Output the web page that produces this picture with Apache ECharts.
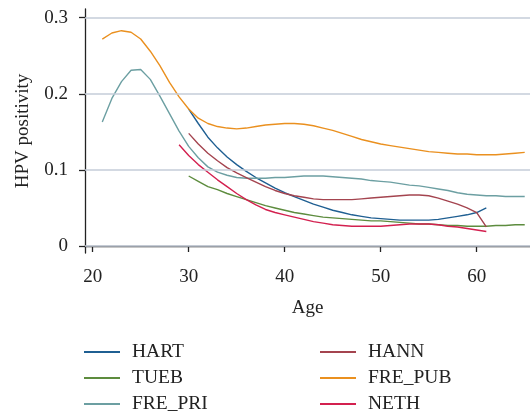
<!DOCTYPE html>
<html>
<head>
<meta charset="utf-8">
<script src="https://cdn.jsdelivr.net/npm/echarts@6/dist/echarts.min.js"></script>
<style>
html,body{margin:0;padding:0;background:#fff;}
#c{width:530px;height:415px;}
</style>
</head>
<body>
<div id="c"></div>
<script>
const ageStart21 = 21;
const ageStart30 = 30;
const ageStart29 = 29;

const FRE_PUB = [0.272,0.280,0.283,0.281,0.272,0.256,0.237,0.215,0.196,0.180,
  0.168,0.161,0.157,0.155,0.154,0.155,0.157,0.159,0.160,0.161,
  0.161,0.160,0.158,0.155,0.152,0.148,0.144,0.140,0.137,0.134,
  0.132,0.130,0.128,0.126,0.124,0.123,0.122,0.121,0.121,0.120,
  0.120,0.120,0.121,0.122,0.123]; // ages 21..65

const FRE_PRI = [0.163,0.194,0.216,0.231,0.232,0.219,0.197,0.174,0.151,0.131,
  0.116,0.104,0.097,0.093,0.090,0.089,0.089,0.089,0.090,0.090,
  0.091,0.092,0.092,0.092,0.091,0.090,0.089,0.088,0.086,0.085,
  0.084,0.082,0.080,0.079,0.077,0.075,0.073,0.070,0.068,0.067,
  0.066,0.066,0.065,0.065,0.065]; // ages 21..65

const HART = [0.180,0.161,0.143,0.129,0.117,0.107,0.098,0.090,0.083,0.076,
  0.070,0.065,0.060,0.055,0.051,0.047,0.044,0.041,0.039,0.037,
  0.036,0.035,0.034,0.034,0.034,0.034,0.035,0.037,0.039,0.041,
  0.044,0.050]; // ages 30..61

const HANN = [0.148,0.134,0.122,0.112,0.103,0.096,0.090,0.084,0.078,0.073,
  0.069,0.066,0.064,0.062,0.061,0.061,0.061,0.061,0.062,0.063,
  0.064,0.065,0.066,0.067,0.067,0.066,0.063,0.059,0.055,0.050,
  0.044,0.025]; // ages 30..61

const NETH = [0.133,0.119,0.107,0.097,0.087,0.078,0.069,0.061,0.054,0.048,
  0.044,0.041,0.038,0.035,0.032,0.030,0.028,0.027,0.026,0.026,
  0.026,0.026,0.027,0.028,0.029,0.029,0.029,0.028,0.026,0.025,
  0.023,0.021,0.019]; // ages 29..61

const TUEB = [0.092,0.085,0.078,0.074,0.069,0.065,0.061,0.057,0.053,0.050,
  0.047,0.044,0.042,0.040,0.038,0.037,0.036,0.035,0.034,0.033,
  0.033,0.032,0.031,0.030,0.029,0.029,0.028,0.027,0.027,0.026,
  0.026,0.026,0.027,0.027,0.028,0.028]; // ages 30..65

const xTicks = [20, 30, 40, 50, 60];
const yTicks = [0, 0.1, 0.2, 0.3];

// legend layout: [name, column, row]
const legendLayout = [
  ['HART', 0, 0], ['TUEB', 0, 1], ['FRE_PRI', 0, 2],
  ['HANN', 1, 0], ['FRE_PUB', 1, 1], ['NETH', 1, 2]
];

function pairs(start, vals) { return vals.map((v, i) => [start + i, v]); }

const colors = {
  HART: '#1f5f92',
  TUEB: '#5d8c3e',
  FRE_PRI: '#6c9fa2',
  HANN: '#a4444f',
  FRE_PUB: '#ea901f',
  NETH: '#d3204f'
};

const FONT = 'Liberation Serif';
const FS = 19;

function mk(name, start, vals) {
  return {
    name, type: 'line', data: pairs(start, vals), showSymbol: false, symbol: 'none',
    smooth: false, lineStyle: { width: 1.4, color: colors[name] }, itemStyle: { color: colors[name] },
    z: 3
  };
}

const chart = echarts.init(document.getElementById('c'), null, { renderer: 'canvas' });

const colLeft = [84, 320];
const rowCenter = [349, 375, 401];

const legends = legendLayout.map(([name, col, row]) => ({
  data: [name], left: colLeft[col], top: rowCenter[row] - 7,
  orient: 'horizontal', itemWidth: 36, itemHeight: 14, padding: 0,
  icon: 'path://M0,6 L36,6 L36,8 L0,8 Z',
  textStyle: { fontFamily: FONT, fontSize: 19.5, color: '#222', padding: [0, 0, 0, 7] }
}));

chart.setOption({
  animation: false,
  color: Object.values(colors),
  grid: { left: 85, right: 0, top: 9, bottom: 162, containLabel: false },
  legend: legends,
  xAxis: {
    type: 'value', min: 19.2, max: 65.55,
    name: 'Age', nameLocation: 'middle', nameGap: 46,
    nameTextStyle: { fontFamily: FONT, fontSize: FS, color: '#222' },
    axisLine: { show: true, lineStyle: { color: '#222', width: 1.3 } },
    axisTick: { show: true, inside: false, length: 6, customValues: xTicks, lineStyle: { color: '#222', width: 1.3 } },
    axisLabel: { customValues: xTicks, margin: 15, fontFamily: FONT, fontSize: FS, color: '#222' },
    splitLine: { show: false }
  },
  yAxis: {
    type: 'value', min: -0.0092, max: 0.3115,
    name: 'HPV positivity', nameLocation: 'middle', nameGap: 52, nameRotate: 90,
    nameTextStyle: { fontFamily: FONT, fontSize: FS, color: '#222' },
    axisLine: { show: true, lineStyle: { color: '#222', width: 1.3 } },
    axisTick: { show: true, inside: false, length: 6, customValues: yTicks, lineStyle: { color: '#222', width: 1.3 } },
    axisLabel: { customValues: yTicks, margin: 17, fontFamily: FONT, fontSize: FS, color: '#222',
      formatter: v => (v === 0 ? '0' : v.toFixed(1)) },
    splitLine: { show: false }
  },
  series: [
    Object.assign(mk('HART', ageStart30, HART), {
      markLine: {
        silent: true, symbol: 'none', label: { show: false },
        lineStyle: { color: '#c5ccd8', width: 1.5, type: 'solid' },
        data: yTicks.map(v => ({ yAxis: v }))
      }
    }),
    mk('TUEB', ageStart30, TUEB),
    mk('FRE_PRI', ageStart21, FRE_PRI),
    mk('HANN', ageStart30, HANN),
    mk('FRE_PUB', ageStart21, FRE_PUB),
    mk('NETH', ageStart29, NETH)
  ]
});
</script>
</body>
</html>
